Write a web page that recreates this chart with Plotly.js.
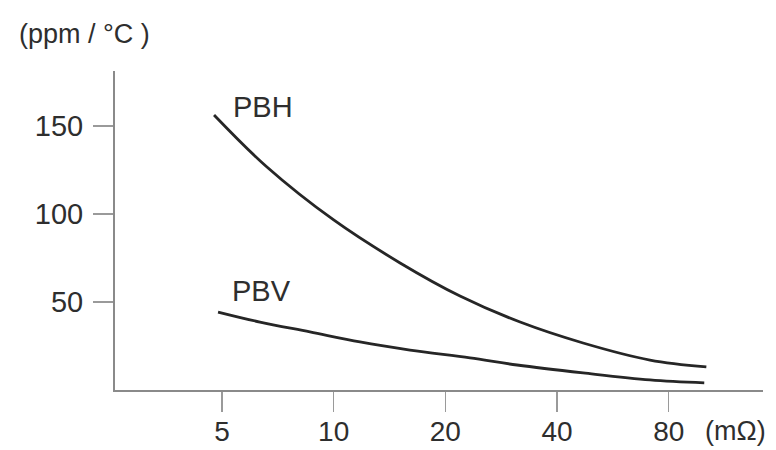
<!DOCTYPE html>
<html>
<head>
<meta charset="utf-8">
<script src="https://cdn.plot.ly/plotly-3.0.1.min.js"></script>
<style>html,body{margin:0;padding:0;background:#fff;}#chart{width:776px;height:450px;}</style>
</head>
<body>
<div id="chart"></div>
<script>
// Resistance (mΩ) and temperature coefficient (ppm/°C)
const pbhX = [4.76, 6.61, 10, 15.1, 21.9, 31.8, 47.0, 71.2, 101];
const pbhY = [156.3, 126.7, 96.6, 72.2, 53.4, 38.6, 26.7, 17.0, 13.1];
const pbvX = [4.88, 6.33, 8.63, 11.77, 16.06, 23.3, 31.2, 47.0, 71.2, 99.7];
const pbvY = [44.3, 38.6, 33.0, 27.3, 22.7, 18.2, 14.2, 9.7, 5.7, 4.0];
const xTickVals = [5, 10, 20, 40, 80];
const xTickText = ["5", "10", "20", "40", "80"];
const yTickVals = [50, 100, 150];
const yTickText = ["50", "100", "150"];
const seriesNames = ["PBH", "PBV"];

const font = "Liberation Sans, Arial, Helvetica, sans-serif";
const txt = "#2e2e2e";
const lineCol = "#262626";

const traces = [
  {x: pbhX, y: pbhY, name: seriesNames[0], mode: "lines", line: {color: lineCol, width: 2.8, shape: "spline", smoothing: 1}},
  {x: pbvX, y: pbvY, name: seriesNames[1], mode: "lines", line: {color: lineCol, width: 2.8, shape: "spline", smoothing: 1}}
];

const layout = {
  width: 776, height: 450,
  margin: {l: 115, r: 13, t: 71, b: 60},
  paper_bgcolor: "#fff", plot_bgcolor: "#fff",
  showlegend: false,
  font: {family: font, color: txt, size: 29},
  xaxis: {
    type: "log", range: [0.4107, 2.1570],
    tickvals: xTickVals, ticktext: xTickText,
    ticks: "outside", ticklen: 20, tickwidth: 1.2, tickcolor: "#9a9a9a",
    showline: true, linecolor: "#8a8a8a", linewidth: 2,
    showgrid: false, zeroline: false,
    tickfont: {family: font, size: 28, color: txt},
    ticklabelstandoff: -5
  },
  yaxis: {
    range: [0, 181.25],
    tickvals: yTickVals, ticktext: yTickText,
    ticks: "outside", ticklen: 20, tickwidth: 1.2, tickcolor: "#9a9a9a",
    showline: true, linecolor: "#8a8a8a", linewidth: 2,
    showgrid: false, zeroline: false,
    tickfont: {family: font, size: 29, color: txt},
    ticklabelstandoff: 4
  },
  annotations: [
    {x: Math.log10(5.3), y: 160.8, xref: "x", yref: "y", text: seriesNames[0], showarrow: false,
     xanchor: "left", yanchor: "middle", font: {family: font, size: 29, color: txt}},
    {x: Math.log10(5.27), y: 56.3, xref: "x", yref: "y", text: seriesNames[1], showarrow: false,
     xanchor: "left", yanchor: "middle", font: {family: font, size: 29, color: txt}},
    {x: -0.152, y: 1.116, xref: "paper", yref: "paper", text: "(ppm / °C )", showarrow: false,
     xanchor: "left", yanchor: "middle", font: {family: font, size: 27, color: txt}},
    {x: 0.908, y: -0.13, xref: "paper", yref: "paper", text: "(mΩ)", showarrow: false,
     xanchor: "left", yanchor: "middle", font: {family: font, size: 27, color: txt}}
  ]
};

Plotly.newPlot("chart", traces, layout, {displayModeBar: false, staticPlot: true});
</script>
</body>
</html>
